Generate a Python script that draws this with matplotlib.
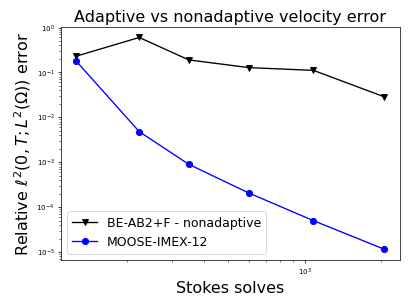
import matplotlib
matplotlib.use("Agg")
from matplotlib import pyplot as plt

# Stokes solves per run
solves_fixed = [126, 223, 349, 601, 1080, 2055]
solves_adapt = [126, 223, 349, 601, 1080, 2055]

# relative velocity error
err_fixed = [0.23, 0.60, 0.19, 0.128, 0.111, 0.0285]
err_adapt = [0.178, 0.0048, 9.0e-4, 2.07e-4, 5.0e-5, 1.15e-5]

labels = ['BE-AB2+F - nonadaptive', 'MOOSE-IMEX-12']

def main():
    fig, ax = plt.subplots(figsize=(6.4, 4.8))
    ax.loglog(solves_fixed, err_fixed, 'v-', color='k', ms=7, label=labels[0])
    ax.loglog(solves_adapt, err_adapt, 'o-', color='b', ms=7, label=labels[1])
    ax.set_title('Adaptive vs nonadaptive velocity error', fontsize=18)
    ax.set_xlabel('Stokes solves', fontsize=18)
    ax.set_ylabel(r'Relative $\ell^2(0,T;L^2(\Omega))$ error', fontsize=18)
    ax.tick_params(which='both', labelsize=8)
    ax.legend(loc='lower left', fontsize=14)
    fig.subplots_adjust(left=0.148, right=0.973, top=0.912, bottom=0.156)
    fig.savefig('out.png', dpi=411/6.4)

if __name__ == '__main__':
    main()
